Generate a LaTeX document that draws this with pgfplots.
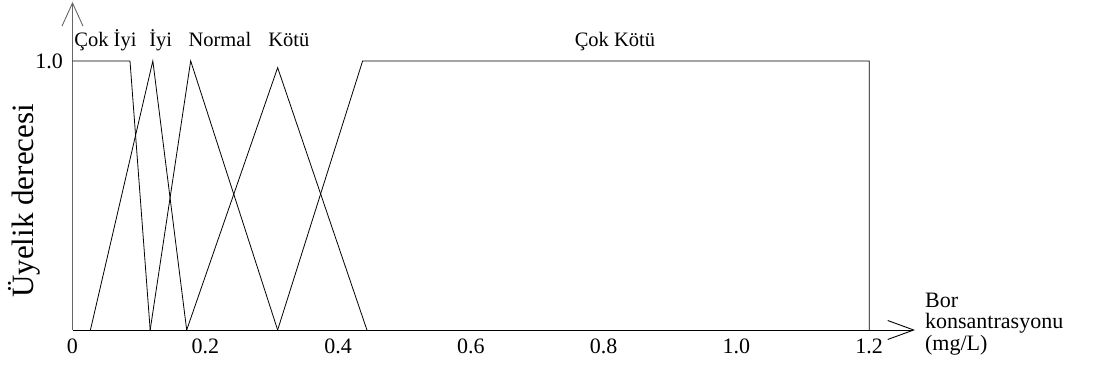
\documentclass[border=0pt]{standalone}
\usepackage{fontspec}
\setmainfont{Liberation Serif}
\usepackage{pgfplots}
\pgfplotsset{compat=1.18}
\usetikzlibrary{arrows.meta}
\begin{document}
\begin{tikzpicture}[x=1pt,y=1pt]
\begin{axis}[
  at={(0,0)}, anchor=south west,
  scale only axis, width=842.5pt, height=328pt,
  xmin=0, xmax=1.269, ymin=0, ymax=1.219,
  axis lines=left,
  x axis line style={black, line width=0.9pt, -{Straight Barb[length=26pt,width=19pt,line width=0.9pt]}},
  y axis line style={black!60, line width=0.9pt, -{Straight Barb[length=23pt,width=21pt,line width=0.9pt]}},
  major tick length=0pt,
  xtick={0,0.2,0.4,0.6,0.8,1.0,1.2},
  xticklabels={0,0.2,0.4,0.6,0.8,1.0,1.2},
  ytick={1.0}, yticklabels={1.0},
  /pgf/number format/assume math mode=true,
  tick label style={font=\fontsize{22}{25}\selectfont},
  xticklabel style={yshift=-5.5pt},
  yticklabel style={xshift=-6pt},
  clip=false,
]
\addplot[black, line width=0.8pt] coordinates {(0,1) (0.0866,1) (0.117,0)};
\addplot[black, line width=0.8pt] coordinates {(0.027,0) (0.121,1) (0.172,0)};
\addplot[black, line width=0.8pt] coordinates {(0.117,0) (0.178,1) (0.309,0)};
\addplot[black, line width=0.8pt] coordinates {(0.172,0) (0.309,0.975) (0.4435,0)};
\addplot[black, line width=0.8pt] coordinates {(0.309,0) (0.437,1) (1.2,1) (1.2,0)};
\begin{scope}[every node/.style={font=\fontsize{20.5}{23}\selectfont, anchor=base, inner sep=0pt}]
\node at (axis cs:0.0497,1.052) {Çok İyi};
\node at (axis cs:0.133,1.052) {İyi};
\node at (axis cs:0.222,1.052) {Normal};
\node at (axis cs:0.326,1.052) {Kötü};
\node at (axis cs:0.817,1.052) {Çok Kötü};
\end{scope}
\node[rotate=90, font=\fontsize{31}{35}\selectfont, inner sep=0pt] at (axis cs:-0.072,0.48) {Üyelik derecesi};
\node[anchor=north west, align=left, inner sep=0pt, font=\fontsize{22}{21.5}\selectfont] at (axis cs:1.284,0.138) {Bor\\konsantrasyonu\\(mg/L)};
\end{axis}
\pgfresetboundingbox
\path[use as bounding box] (-72.5,-44) rectangle (1029.5,330);
\end{tikzpicture}
\end{document}
